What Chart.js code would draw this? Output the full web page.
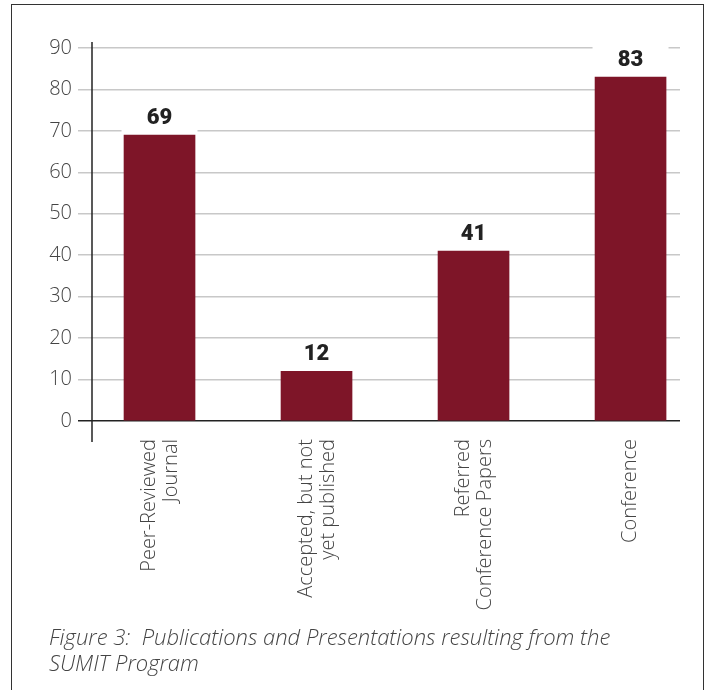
<!DOCTYPE html>
<html>
<head>
<meta charset="utf-8">
<script src="https://cdn.jsdelivr.net/npm/chart.js@4.4.1/dist/chart.umd.min.js"></script>
<style>
    body { margin: 0; background: #fff; width: 711px; height: 690px; overflow: hidden; position: relative; }
    .frame { position: absolute; left: 11px; top: 4px; width: 691px; height: 720px; border: 1.5px solid #333; }
    #chartWrap { position: absolute; left: 0; top: 0; width: 711px; height: 690px; }
    .caption { position: absolute; left: 49px; top: 623px; font-family: 'Open Sans', Roboto, sans-serif; font-style: italic; font-weight: 300; font-size: 22px; line-height: 26px; color: #444; }
</style>
</head>
<body>
<div class="frame"></div>
<div id="chartWrap"><canvas id="pubChart" width="711" height="690"></canvas></div>
<div class="caption">Figure 3:&nbsp; Publications and Presentations resulting from the<br>SUMIT Program</div>

<script>
// chart data
const categories = [
    ['Peer-Reviewed', 'Journal'],
    ['Accepted, but not', 'yet published'],
    ['Referred', 'Conference Papers'],
    ['Conference']
];
const counts = [69, 12, 41, 83];
const yTicks = [0, 10, 20, 30, 40, 50, 60, 70, 80, 90];

const barColor = '#7e1528';
const textFont = '"Open Sans", Roboto, sans-serif';

// draws the bold count above each bar on a white patch
const valueLabels = {
    id: 'valueLabels',
    afterDatasetsDraw(chart) {
        const ctx = chart.ctx;
        const meta = chart.getDatasetMeta(0);
        ctx.save();
        ctx.font = '900 22px Roboto, "Liberation Sans", sans-serif';
        ctx.textAlign = 'center';
        ctx.textBaseline = 'middle';
        meta.data.forEach((bar, i) => {
            ctx.fillStyle = '#fff';
            ctx.fillRect(bar.x - 38, bar.y - 30, 76, 27);
            ctx.fillStyle = '#222';
            ctx.fillText(String(counts[i]), bar.x, bar.y - 17);
        });
        ctx.restore();
    }
};

// vertical axis line that runs a bit past the plot area
const axisLine = {
    id: 'axisLine',
    afterDraw(chart) {
        const { ctx, chartArea } = chart;
        ctx.save();
        ctx.strokeStyle = '#222';
        ctx.lineWidth = 1.5;
        ctx.beginPath();
        ctx.moveTo(chartArea.left, chartArea.top - 6);
        ctx.lineTo(chartArea.left, chartArea.bottom + 21);
        ctx.stroke();
        ctx.restore();
    }
};

new Chart(document.getElementById('pubChart'), {
    type: 'bar',
    data: {
        datasets: [{
            data: counts.map((v, i) => ({ x: i, y: v })),
            backgroundColor: barColor,
            borderWidth: 0,
            barThickness: 71
        }]
    },
    options: {
        responsive: false,
        animation: false,
        layout: { padding: { left: 0, right: 31, top: 48, bottom: 0 } },
        plugins: {
            legend: { display: false },
            tooltip: { enabled: false }
        },
        scales: {
            x: {
                type: 'linear',
                offset: false,
                min: -0.43,
                max: 3.315,
                grid: { display: false, offset: false },
                border: { display: false },
                // two-line labels get nudged left so the block sits centred under the bar
                afterBuildTicks: scale => {
                    scale.ticks = categories.map((c, i) => ({ value: i - (c.length - 1) * 0.065 }));
                },
                afterFit: scale => { scale.height = 269; },
                ticks: {
                    autoSkip: false,
                    minRotation: 90,
                    maxRotation: 90,
                    padding: 10,
                    color: '#444',
                    font: { family: textFont, size: 20, weight: 300, lineHeight: 1.1 },
                    callback: (value, index) => categories[index]
                }
            },
            y: {
                min: 0,
                max: 90,
                afterBuildTicks: scale => {
                    scale.ticks = yTicks.map(v => ({ value: v }));
                },
                afterFit: scale => { scale.width = 92; },
                border: { display: false },
                grid: {
                    color: c => (c.tick && c.tick.value === 0) ? '#222' : '#c8c8c8',
                    lineWidth: 1.5,
                    tickLength: 14
                },
                ticks: {
                    padding: 6,
                    color: '#444',
                    font: { family: textFont, size: 20, weight: 300 }
                }
            }
        }
    },
    plugins: [valueLabels, axisLine]
});
</script>
</body>
</html>
